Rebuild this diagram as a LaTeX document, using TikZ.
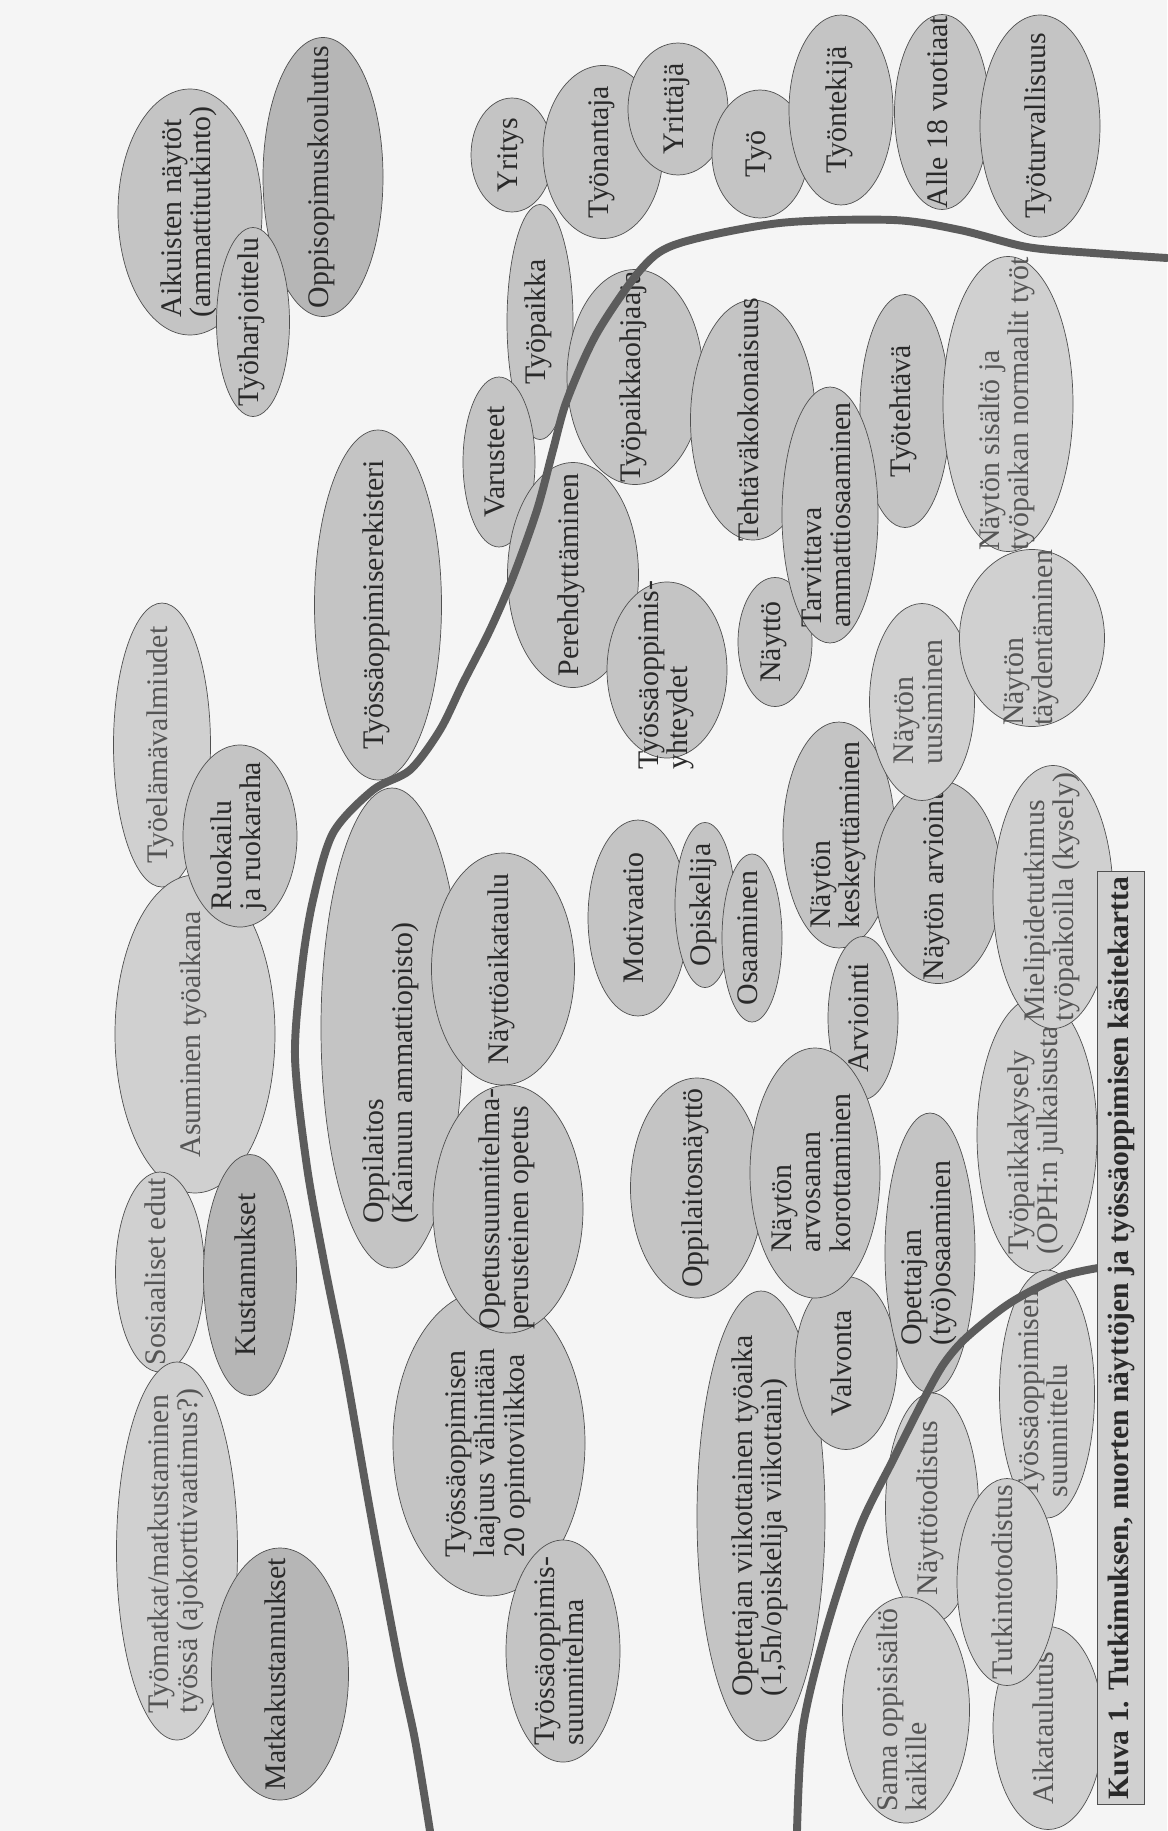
\documentclass[tikz,border=0pt]{standalone}
\usepackage{fontspec}
\setmainfont{Liberation Serif}
\definecolor{kkpaper}{HTML}{F5F5F5}
\definecolor{kkfill}{HTML}{C4C4C4}
\definecolor{kklight}{HTML}{D0D0D0}
\definecolor{kkdark}{HTML}{B6B6B6}
\definecolor{kkline}{HTML}{505050}
\definecolor{kktext}{HTML}{2A2A2A}
\definecolor{kkcurve}{HTML}{5C5C5C}
\usepackage{tikz}
\usetikzlibrary{shapes.geometric}
\newcommand{\kt}[2][0]{\makebox[0pt]{\hspace*{#1\dimexpr0.4mm\relax}\makebox[0pt]{\begin{tabular}{@{}l@{}}#2\end{tabular}}}}

\begin{document}
\begin{tikzpicture}[x=0.2mm,y=-0.2mm,
  blob/.style={ellipse,draw=kkline,fill=kkfill,rotate=90,inner sep=0pt,text=kktext,
    font=\fontsize{17}{17}\selectfont},
  sz/.style 2 args={minimum height=#1*0.2mm,minimum width=#2*0.2mm},
  light/.style={fill=kklight,text=kktext!80},
  dark/.style={fill=kkdark},
  border/.style={line width=4.5pt,kkcurve,line cap=round},
  caption/.style={draw=kkline,fill=kklight,rotate=90,inner sep=2pt,text=kktext,
    font=\fontsize{16.8}{17}\selectfont\bfseries,minimum width=933*0.2mm,minimum height=47*0.2mm}]
  \useasboundingbox (0,0) rectangle (1167,1831);
  \fill[kkpaper] (0,0) rectangle (1167,1831);

  \node[blob,sz={144}{246}] (aikuiset) at (190,212) {\kt{Aikuisten näytöt\\(ammattitutkinto)}};
  \node[blob,dark,sz={120}{279}] (oppisopimus) at (323,177) {\kt{Oppisopimuskoulutus}};
  \node[blob,sz={73}{189}] (harjoittelu) at (253,322) {\kt{Työharjoittelu}};
  \node[blob,sz={82}{114}] (yritys) at (512,155) {\kt{Yritys}};
  \node[blob,sz={120}{173}] (tyonantaja) at (603,152) {\kt{Työnantaja}};
  \node[blob,sz={100}{132}] (yrittaja) at (678,109) {\kt{Yrittäjä}};
  \node[blob,sz={96}{128}] (tyo) at (760,154) {\kt{Työ}};
  \node[blob,sz={104}{190}] (tyontekija) at (841,110) {\kt{Työntekijä}};
  \node[blob,sz={95}{195}] (alle18) at (942,112) {\kt{Alle 18 vuotiaat}};
  \node[blob,sz={120}{222}] (turvallisuus) at (1040,126) {\kt{Työturvallisuus}};

  \node[blob,sz={66}{235}] (tyopaikka) at (540,322) {\kt{Työpaikka}};
  \node[blob,sz={136}{215}] (ohjaaja) at (635,377) {\kt{Työpaikkaohjaaja}};
  \node[blob,sz={125}{240}] (kokonaisuus) at (753,420) {\kt{Tehtäväkokonaisuus}};
  \node[blob,sz={90}{233}] (tehtava) at (905,411) {\kt{Työtehtävä}};
  \node[blob,light,sz={130}{295}] (sisalto) at (1008,404) {\kt{Näytön sisältö ja\\työpaikan normaalit työt}};
  \node[blob,sz={74}{129}] (naytto) at (775,642) {\kt{Näyttö}};
  \node[blob,sz={96}{256}] (tarvittava) at (830,515) {\kt{Tarvittava\\ammattiosaaminen}};
  \node[blob,sz={72}{170}] (varusteet) at (499,462) {\kt{Varusteet}};
  \node[blob,sz={131}{225}] (perehdytys) at (573,575) {\kt{Perehdyttäminen}};
  \node[blob,sz={120}{176}] (yhteydet) at (667,670) {\kt[-5]{Työssäoppimis-\\yhteydet}};
  \node[blob,sz={112}{226}] (keskeytys) at (839,835) {\kt{Näytön\\keskeyttäminen}};
  \node[blob,sz={127}{203}] (nayttoarviointi) at (938,882) {\kt{Näytön arviointi}};
  \node[blob,light,sz={105}{197}] (uusiminen) at (922,702) {\kt{Näytön\\uusiminen}};
  \node[blob,light,sz={145}{177}] (taydentaminen) at (1032,638) {\kt{Näytön\\täydentäminen}};

  \node[blob,light,sz={97}{284}] (valmiudet) at (162,745) {\kt{Työelämävalmiudet}};
  \node[blob,light,sz={160}{318}] (asuminen) at (195,1034) {\kt{Asuminen työaikana}};
  \node[blob,sz={114}{182}] (ruokailu) at (240,836) {\kt{Ruokailu\\ja ruokaraha}};
  \node[blob,sz={127}{350}] (rekisteri) at (378,605) {\kt{Työssäoppimiserekisteri}};
  \node[blob,light,sz={89}{200}] (sosiaaliset) at (160,1272) {\kt{Sosiaaliset edut}};
  \node[blob,dark,sz={93}{241}] (kustannukset) at (250,1275) {\kt{Kustannukset}};
  \node[blob,sz={142}{480}] (oppilaitos) at (392,1028) {\kt[-45]{Oppilaitos\\(Kainuun ammattiopisto)}};
  \node[blob,sz={143}{232}] (aikataulu) at (503,969) {\kt{Näyttöaikataulu}};
  \node[blob,sz={192}{306}] (laajuus) at (489,1443) {\kt[-10]{Työssäoppimisen\\laajuus vähintään\\20 opintoviikkoa}};
  \node[blob,sz={150}{248}] (ops) at (508,1209) {\kt{Opetussuunnitelma-\\perusteinen opetus}};
  \node[blob,sz={100}{196}] (motivaatio) at (638,918) {\kt{Motivaatio}};
  \node[blob,sz={60}{165}] (opiskelija) at (705,905) {\kt{Opiskelija}};
  \node[blob,sz={60}{168}] (osaaminen) at (752,938) {\kt{Osaaminen}};
  \node[blob,sz={133}{220}] (oppilaitosnaytto) at (697,1188) {\kt{Oppilaitosnäyttö}};
  \node[blob,sz={70}{163}] (arviointi) at (863,1018) {\kt{Arviointi}};
  \node[blob,sz={128}{450}] (tyoaika) at (761,1516) {\kt{Opettajan viikottainen työaika\\(1,5h/opiskelija viikottain)}};
  \node[blob,sz={102}{173}] (valvonta) at (846,1363) {\kt{Valvonta}};
  \node[blob,sz={130}{250}] (korotus) at (815,1173) {\kt{Näytön\\arvosanan\\korottaminen}};
  \node[blob,light,sz={120}{276}] (kysely) at (1037,1135) {\kt{Työpaikkakysely\\(OPH:n julkaisusta)}};
  \node[blob,light,sz={120}{263}] (mielipide) at (1053,897) {\kt{Mielipidetutkimus\\työpaikoilla (kysely)}};
  \node[blob,sz={90}{280}] (opettaja) at (930,1253) {\kt{Opettajan\\(työ)osaaminen}};
  \node[blob,light,sz={95}{248}] (suunnittelu) at (1047,1394) {\kt{Työssäoppimisen\\suunnittelu}};

  \node[blob,light,sz={121}{378}] (tyomatkat) at (177,1551) {\kt{Työmatkat/matkustaminen\\työssä (ajokorttivaatimus?)}};
  \node[blob,dark,sz={137}{252}] (matkakustannukset) at (280,1674) {\kt{Matkakustannukset}};
  \node[blob,sz={114}{222}] (suunnitelma) at (563,1651) {\kt{Työssäoppimis-\\suunnitelma}};
  \node[blob,light,sz={93}{230}] (nayttotodistus) at (932,1508) {\kt{Näyttötodistus}};
  \node[blob,light,sz={110}{203}] (aikataulutus) at (1048,1728) {\kt{Aikataulutus}};
  \node[blob,light,sz={100}{207}] (tutkintotodistus) at (1007,1582) {\kt{Tutkintotodistus}};
  \node[blob,light,sz={127}{226}] (sama) at (906,1710) {\kt{Sama oppisisältö\\kaikille}};

  \draw[border] plot[smooth] coordinates {(430,1831) (415,1740) (398,1660) (370,1510) (345,1367)
    (325,1267) (307,1167) (295,1057) (302,967) (313,900) (333,833) (373,790) (410,770) (440,730)
    (463,683) (490,630) (513,577) (537,510) (553,450) (567,400) (597,333) (643,267) (680,243)
    (780,223) (893,220) (960,230) (1027,247) (1093,253) (1167,258)};
  \draw[border] plot[smooth] coordinates {(1098,1268) (1060,1277) (1010,1303) (967,1337) (945,1362)
    (927,1393) (893,1460) (860,1527) (827,1627) (803,1727) (797,1831)};

  \node[caption] (kuva) at (1121,1338) {Kuva 1. Tutkimuksen, nuorten näyttöjen ja työssäoppimisen käsitekartta};
\end{tikzpicture}
\end{document}
